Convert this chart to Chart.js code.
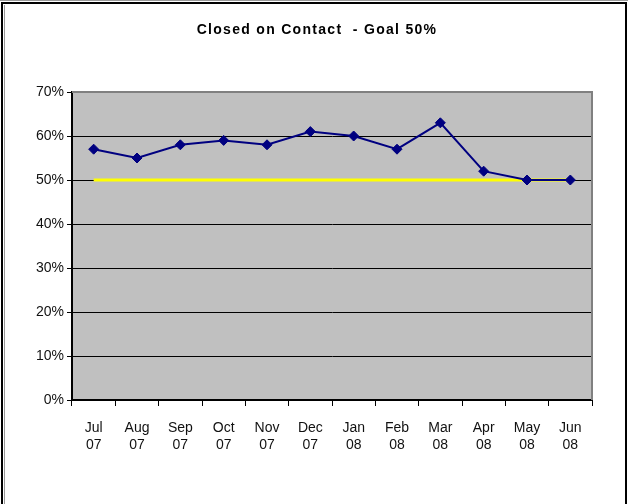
<!DOCTYPE html>
<html>
<head>
<meta charset="utf-8">
<script src="https://cdn.jsdelivr.net/npm/chart.js@4"></script>
<style>
  html, body { margin: 0; padding: 0; background: #fff; }
  #wrap { width: 628px; height: 504px; position: relative; }
</style>
</head>
<body>
<div id="wrap"><canvas id="myChart" width="628" height="504"></canvas></div>
<script>
const chartTitle = "Closed on Contact  - Goal 50%";
const months = [["Jul", "07"], ["Aug", "07"], ["Sep", "07"], ["Oct", "07"], ["Nov", "07"], ["Dec", "07"],
    ["Jan", "08"], ["Feb", "08"], ["Mar", "08"], ["Apr", "08"], ["May", "08"], ["Jun", "08"]];
const closedPct = [57, 55, 58, 59, 58, 61, 60, 57, 63, 52, 50, 50];
const goalPct = [50, 50, 50, 50, 50, 50, 50, 50, 50, 50, 50, 50];
const yTicks = [0, 10, 20, 30, 40, 50, 60, 70];

// gray plot background, top/right plot border, outer frame and title
const plotBg = {
    id: "plotBg",
    beforeDraw(chart) {
        const { ctx, chartArea: a } = chart;
        ctx.save();
        ctx.fillStyle = "#C0C0C0";
        ctx.fillRect(a.left, a.top, a.right - a.left, a.bottom - a.top);
        ctx.restore();
    },
    afterDraw(chart) {
        const { ctx, chartArea: a } = chart;
        ctx.save();
        ctx.strokeStyle = "#808080";
        ctx.lineWidth = 2;
        ctx.beginPath();
        ctx.moveTo(a.left, a.top);
        ctx.lineTo(a.right, a.top);
        ctx.lineTo(a.right, a.bottom);
        ctx.stroke();
        // frame
        ctx.strokeStyle = "#000";
        ctx.lineWidth = 2;
        ctx.beginPath();
        ctx.moveTo(2, 510);
        ctx.lineTo(2, 3);
        ctx.lineTo(626, 3);
        ctx.lineTo(626, 510);
        ctx.stroke();
        ctx.strokeStyle = "#999";
        ctx.lineWidth = 1;
        ctx.beginPath();
        ctx.moveTo(0, 0.5);
        ctx.lineTo(628, 0.5);
        ctx.moveTo(4.5, 510);
        ctx.lineTo(4.5, 5);
        ctx.stroke();
        // title
        ctx.fillStyle = "#000";
        ctx.font = "bold 14px 'Liberation Sans', Arial";
        ctx.letterSpacing = "1.3px";
        ctx.textAlign = "center";
        ctx.textBaseline = "middle";
        ctx.fillText(chartTitle, 317, 30);
        ctx.restore();
    },
};

const ctx = document.getElementById("myChart").getContext("2d");
const myChart = new Chart(ctx, {
    type: "line",
    data: {
        labels: months,
        datasets: [
            {
                label: "Goal",
                data: goalPct,
                borderColor: "#FFFF00",
                borderWidth: 3,
                pointRadius: 0,
                tension: 0,
                order: 2,
            }, {
                label: "Closed on Contact",
                data: closedPct,
                borderColor: "#000080",
                backgroundColor: "#000080",
                borderWidth: 2,
                pointStyle: "rectRot",
                pointRadius: 5,
                pointBorderWidth: 1,
                tension: 0,
                order: 1,
            },
        ],
    },
    plugins: [plotBg],
    options: {
        responsive: false,
        animation: false,
        layout: { padding: { left: 10, right: 36, top: 92, bottom: 0 } },
        plugins: {
            legend: { display: false },
            tooltip: { enabled: false },
            title: { display: false },
        },
        scales: {
            x: {
                offset: true,
                grid: {
                    offset: true,
                    drawOnChartArea: false,
                    color: "#000",
                    tickLength: 6,
                },
                border: { color: "#000", width: 2 },
                ticks: {
                    color: "#111",
                    padding: 14,
                    maxRotation: 0,
                    font: { family: "Liberation Sans, Arial", size: 14 },
                },
                afterFit(scale) { scale.height = 104; },
            },
            y: {
                min: 0,
                max: 70,
                afterBuildTicks(scale) { scale.ticks = yTicks.map(v => ({ value: v })); },
                grid: {
                    color: "#000",
                    lineWidth: 1,
                    tickLength: 5,
                },
                border: { color: "#000", width: 2 },
                ticks: {
                    color: "#111",
                    padding: 3,
                    callback: v => v + "%",
                    font: { family: "Liberation Sans, Arial", size: 14 },
                },
                afterFit(scale) { scale.width = 62; },
            },
        },
    },
});
</script>
</body>
</html>
